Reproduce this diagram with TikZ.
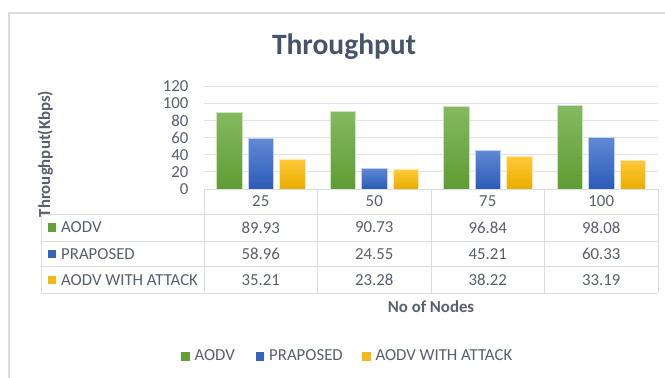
\documentclass[tikz,border=0pt]{standalone}
\usepackage{fontspec}
\setmainfont{Carlito}
\definecolor{framecol}{HTML}{D9DDE4}
\definecolor{gridcol}{HTML}{E1E4EA}
\definecolor{rulecol}{HTML}{DADFE6}
\definecolor{txtcol}{HTML}{586070}
\definecolor{titlecol}{HTML}{44546A}
\definecolor{gtop}{HTML}{85B961}
\definecolor{gbot}{HTML}{5E9E33}
\definecolor{btop}{HTML}{6089D4}
\definecolor{bbot}{HTML}{2D5CB9}
\definecolor{ytop}{HTML}{FFC93A}
\definecolor{ybot}{HTML}{EAAE00}
\tikzset{
  frame/.style={draw=framecol, line width=1.2pt},
  gridline/.style={draw=gridcol, line width=0.8pt},
  tabrule/.style={draw=rulecol, line width=0.9pt},
  lbl/.style={text=txtcol, inner sep=0pt, font=\fontsize{16.8}{18}\selectfont},
  axtitle/.style={text=txtcol, inner sep=0pt, font=\bfseries\fontsize{16.8}{18}\selectfont},
}
% vertical gradient bar: {centre x}{value}{top colour}{bottom colour}
\newcommand{\gradbar}[4]{%
  \pgfmathsetmacro{\gbtop}{189-0.8583*#2}%
  \foreach \k in {0,...,23}{%
    \pgfmathsetmacro{\gbf}{100*\k/23}%
    \pgfmathsetmacro{\gby}{189-0.8583*#2*\k/24}%
    \fill[#3!\gbf!#4] ({#1-12.75},\gby) rectangle ({#1+12.75},\gbtop);
  }%
  \draw[#3!40!white, line width=0.5pt] ({#1-12.75},189) rectangle ({#1+12.75},\gbtop);
}
\begin{document}
\begin{tikzpicture}[x=1pt,y=-1pt]
\useasboundingbox (0,0) rectangle (665,378);
\fill[white] (0,0) rectangle (665,378);
% chart frame (only its left and top edges fall inside the page)
\draw[frame] (9,378) -- (9,13) -- (665,13);

% title
\node[anchor=base, text=titlecol, inner sep=0pt, font=\bfseries\fontsize{29.5}{31}\selectfont] (title) at (344,54) {Throughput};

% value gridlines and tick labels
\foreach \v in {20,40,...,120}
  \draw[gridline] (204,{189-0.8583*\v}) -- (658,{189-0.8583*\v});
\foreach \v in {0,20,...,120}
  \node[lbl, anchor=east] (tick\v) at (188.5,{189-0.8583*\v}) {\v};

% y-axis title
\node[axtitle, rotate=90, anchor=base] (ytitle) at (50,154) {Throughput(Kbps)};

% bars: three series per node count
\foreach \a/\p/\w [count=\i] in {89.93/58.96/35.21, 90.73/24.55/23.28, 96.84/45.21/38.22, 98.08/60.33/33.19}{
  \pgfmathsetmacro{\cx}{204+113.5*(\i-0.5)}
  \gradbar{\cx-31.3}{\a}{gtop}{gbot}
  \gradbar{\cx}{\p}{btop}{bbot}
  \gradbar{\cx+31.3}{\w}{ytop}{ybot}
}

% data table rules
\draw[tabrule] (204,189) -- (658,189);
\foreach \yy in {214.3,241,266.7,293.3}
  \draw[tabrule] (41,\yy) -- (658,\yy);
\draw[tabrule] (41,214.3) -- (41,293.3);
\foreach \xx in {204,317.5,431,544.5,658}
  \draw[tabrule] (\xx,189) -- (\xx,293.3);

% table header: node counts
\foreach \n [count=\i] in {25,50,75,100}
  \node[lbl] (hd\i) at ({204+113.5*(\i-0.5)},201.5) {\n};

% table row labels with colour keys
\fill[gbot!90!gtop] (48,223.3) rectangle (56,231.8);
\node[lbl, anchor=west] (rowA) at (61,227.6) {AODV};
\fill[bbot!85!btop] (48,249.6) rectangle (56,258.1);
\node[lbl, anchor=west] (rowP) at (61,253.8) {PRAPOSED};
\fill[ybot!60!ytop] (48,275.8) rectangle (56,284.3);
\node[lbl, anchor=west] (rowW) at (61,280) {AODV WITH ATTACK};

% table values
\foreach \a/\p/\w [count=\i] in {89.93/58.96/35.21, 90.73/24.55/23.28, 96.84/45.21/38.22, 98.08/60.33/33.19}{
  \node[lbl] (va\i) at ({204+113.5*(\i-0.5)},227.6) {\a};
  \node[lbl] (vp\i) at ({204+113.5*(\i-0.5)},253.8) {\p};
  \node[lbl] (vw\i) at ({204+113.5*(\i-0.5)},280) {\w};
}

% x-axis title
\node[axtitle, anchor=base] (xtitle) at (431,312.7) {No of Nodes};

% legend
\fill[gbot!90!gtop] (181,351.5) rectangle (189.5,360.5);
\node[lbl, anchor=base west] (legA) at (194.3,360.7) {AODV};
\fill[bbot!85!btop] (255.7,351.5) rectangle (264.2,360.5);
\node[lbl, anchor=base west] (legP) at (269,360.7) {PRAPOSED};
\fill[ybot!60!ytop] (362.2,351.5) rectangle (370.7,360.5);
\node[lbl, anchor=base west] (legW) at (375.3,360.7) {AODV WITH ATTACK};
\end{tikzpicture}
\end{document}
